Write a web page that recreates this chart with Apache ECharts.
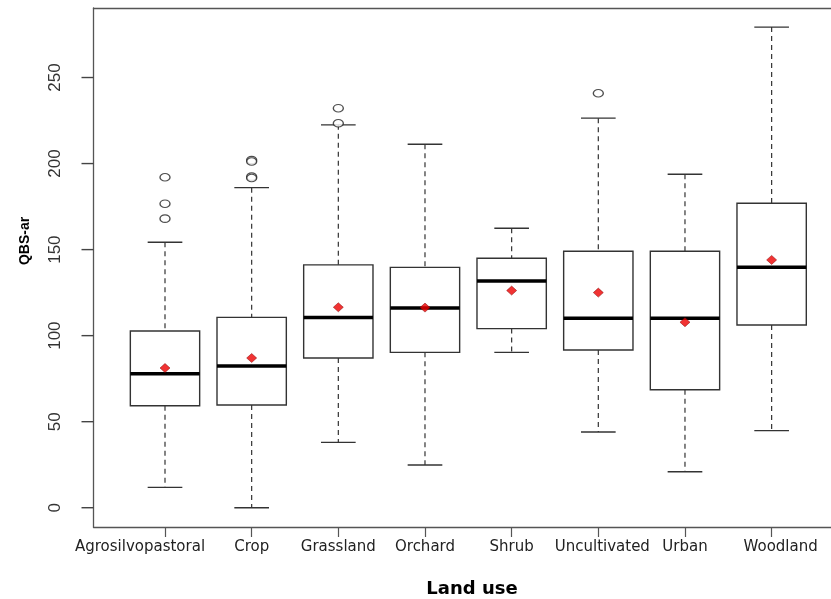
<!DOCTYPE html>
<html>
<head>
<meta charset="utf-8">
<script src="https://cdn.jsdelivr.net/npm/echarts@6/dist/echarts.min.js"></script>
<style>html,body{margin:0;padding:0;background:#fff}#chart{width:831px;height:599px}</style>
</head>
<body>
<div id="chart"></div>
<script>
var categories = ['Agrosilvopastoral', 'Crop', 'Grassland', 'Orchard', 'Shrub', 'Uncultivated', 'Urban', 'Woodland'];
var whiskerLow = [11.8, 0, 38.0, 24.8, 90.3, 44.0, 20.9, 44.8];
var q1 = [59.3, 59.7, 87.0, 90.3, 104.1, 91.7, 68.6, 106.2];
var median = [77.9, 82.4, 110.6, 116.1, 131.8, 110.1, 110.1, 139.7];
var q3 = [102.7, 110.6, 141.1, 139.7, 145.0, 149.0, 149.0, 176.9];
var whiskerHigh = [154.3, 186.0, 222.5, 211.2, 162.4, 226.4, 193.8, 279.3];
var means = [81.2, 87.0, 116.5, 116.3, 126.2, 125.0, 107.8, 144.0];
var outlierCats = ['Agrosilvopastoral', 'Agrosilvopastoral', 'Agrosilvopastoral', 'Crop', 'Crop', 'Crop', 'Crop', 'Grassland', 'Grassland', 'Uncultivated'];
var outlierVals = [192.0, 176.7, 168.0, 202.0, 201.2, 192.4, 191.6, 232.2, 223.4, 240.9];
var yTicks = [0, 50, 100, 150, 200, 250];
var yRange = [-11.2, 290.4];
var xTitle = 'Land use';
var yTitle = 'QBS-ar';

var boxData = categories.map(function (c, i) {
  return [i, whiskerLow[i], q1[i], median[i], q3[i], whiskerHigh[i]];
});
var meanData = categories.map(function (c, i) { return [c, means[i]]; });
var outlierData = outlierCats.map(function (c, i) { return [c, outlierVals[i]]; });
var tickData = yTicks.map(function (v) { return [0, v]; });

function renderBox(params, api) {
  var x = api.value(0);
  var lo = api.coord([x, api.value(1)]);
  var b1 = api.coord([x, api.value(2)]);
  var md = api.coord([x, api.value(3)]);
  var b3 = api.coord([x, api.value(4)]);
  var hi = api.coord([x, api.value(5)]);
  var band = api.size([1, 0])[0];
  var bw = band * 0.8 / 2;
  var cw = band * 0.4 / 2;
  var cx = lo[0];
  var dash = { stroke: '#333', lineWidth: 1.2, lineDash: [5, 4] };
  var solid = { stroke: '#333', lineWidth: 1.4 };
  return {
    type: 'group',
    children: [
      { type: 'line', shape: { x1: cx, y1: hi[1], x2: cx, y2: b3[1] }, style: dash },
      { type: 'line', shape: { x1: cx, y1: b1[1], x2: cx, y2: lo[1] }, style: dash },
      { type: 'line', shape: { x1: cx - cw, y1: hi[1], x2: cx + cw, y2: hi[1] }, style: solid },
      { type: 'line', shape: { x1: cx - cw, y1: lo[1], x2: cx + cw, y2: lo[1] }, style: solid },
      { type: 'rect', shape: { x: cx - bw, y: b3[1], width: bw * 2, height: b1[1] - b3[1] }, style: { fill: '#fff', stroke: '#333', lineWidth: 1.4 } },
      { type: 'line', shape: { x1: cx - bw, y1: md[1], x2: cx + bw, y2: md[1] }, style: { stroke: '#000', lineWidth: 3.5 } }
    ]
  };
}

function renderTick(params, api) {
  var v = api.value(1);
  var p = api.coord([api.value(0), v]);
  return {
    type: 'group',
    children: [
      { type: 'line', shape: { x1: p[0] - 12, y1: p[1], x2: p[0], y2: p[1] }, style: { stroke: '#444', lineWidth: 1.4 } },
      {
        type: 'text', x: p[0] - 30, y: p[1], rotation: Math.PI / 2,
        style: { text: String(v), font: '17px "Liberation Sans"', fill: '#333', align: 'center', verticalAlign: 'bottom' }
      }
    ]
  };
}

var frameLine = { show: true, onZero: false, lineStyle: { color: '#555', width: 1.3 } };
var hiddenLine = { show: true, onZero: false, lineStyle: { color: '#555', width: 1.3, opacity: 0 } };

var chart = echarts.init(document.getElementById('chart'), null, { renderer: 'canvas' });
chart.setOption({
  animation: false,
  backgroundColor: '#fff',
  grid: [
    { left: 93.5, top: 8, right: 0, height: 519 },
    { left: 93.5, top: 8, right: 0, height: 519 },
    { left: 121.67, top: 8, width: 693.3, height: 519 }
  ],
  xAxis: [
    { gridIndex: 0, type: 'value', position: 'bottom', min: 0, max: 1, axisLine: frameLine, axisTick: { show: false }, axisLabel: { show: false }, splitLine: { show: false } },
    { gridIndex: 0, type: 'value', position: 'top', min: 0, max: 1, axisLine: frameLine, axisTick: { show: false }, axisLabel: { show: false }, splitLine: { show: false } },
    { gridIndex: 1, type: 'value', min: 0, max: 1, axisLine: { show: false }, axisTick: { show: false }, axisLabel: { show: false }, splitLine: { show: false } },
    {
      gridIndex: 2, type: 'category', data: categories, boundaryGap: true, position: 'bottom',
      axisLine: hiddenLine,
      axisTick: { show: true, inside: false, alignWithLabel: true, length: 10, lineStyle: { color: '#555', width: 1.2 } },
      axisLabel: {
        interval: 0, margin: 13, color: '#222', fontFamily: 'DejaVu Sans', fontSize: 15,
        formatter: function (v) {
          if (v === 'Agrosilvopastoral') return '{l|' + v + '}';
          if (v === 'Woodland') return '{r|' + v + '}';
          if (v === 'Uncultivated') return '{s|' + v + '}';
          return v;
        },
        rich: {
          l: { fontFamily: 'DejaVu Sans', fontSize: 15, color: '#222', padding: [0, 50, 0, 0] },
          r: { fontFamily: 'DejaVu Sans', fontSize: 15, color: '#222', padding: [0, 0, 0, 18] },
          s: { fontFamily: 'DejaVu Sans', fontSize: 15, color: '#222', padding: [0, 0, 0, 8] }
        }
      },
      splitLine: { show: false }
    }
  ],
  yAxis: [
    { gridIndex: 0, type: 'value', position: 'left', min: 0, max: 1, axisLine: frameLine, axisTick: { show: false }, axisLabel: { show: false }, splitLine: { show: false } },
    {
      gridIndex: 1, type: 'value', position: 'left', min: yRange[0], max: yRange[1],
      axisLine: hiddenLine, axisTick: { show: false }, axisLabel: { show: false }, splitLine: { show: false }
    },
    { gridIndex: 2, type: 'value', show: false, min: yRange[0], max: yRange[1] }
  ],
  series: [
    {
      type: 'custom', coordinateSystem: 'cartesian2d', xAxisIndex: 2, yAxisIndex: 1, data: tickData, clip: false,
      encode: { x: 0, y: 1 },
      renderItem: renderTick, z: 10, silent: true
    },
    {
      type: 'custom', xAxisIndex: 3, yAxisIndex: 2, data: boxData, clip: false,
      encode: { x: 0, y: [1, 2, 3, 4, 5] },
      renderItem: renderBox, z: 2
    },
    {
      type: 'scatter', xAxisIndex: 3, yAxisIndex: 2, data: outlierData,
      symbol: 'circle', symbolSize: [10, 7.5],
      itemStyle: { color: '#fff', borderColor: '#222', borderWidth: 1.2 }, z: 3
    },
    {
      type: 'scatter', xAxisIndex: 3, yAxisIndex: 2, data: meanData,
      symbol: 'diamond', symbolSize: [10, 9],
      itemStyle: { color: '#ee0000', borderColor: '#800000', borderWidth: 0.6 }, z: 4
    }
  ],
  graphic: [
    { type: 'text', x: 472, y: 589, style: { text: xTitle, font: 'bold 18px "DejaVu Sans"', fill: '#000', align: 'center', verticalAlign: 'middle' } },
    { type: 'text', x: 25, y: 241, rotation: Math.PI / 2, style: { text: yTitle, font: 'bold 14px "Liberation Sans"', fill: '#000', align: 'center', verticalAlign: 'middle' } }
  ]
});
</script>
</body>
</html>
